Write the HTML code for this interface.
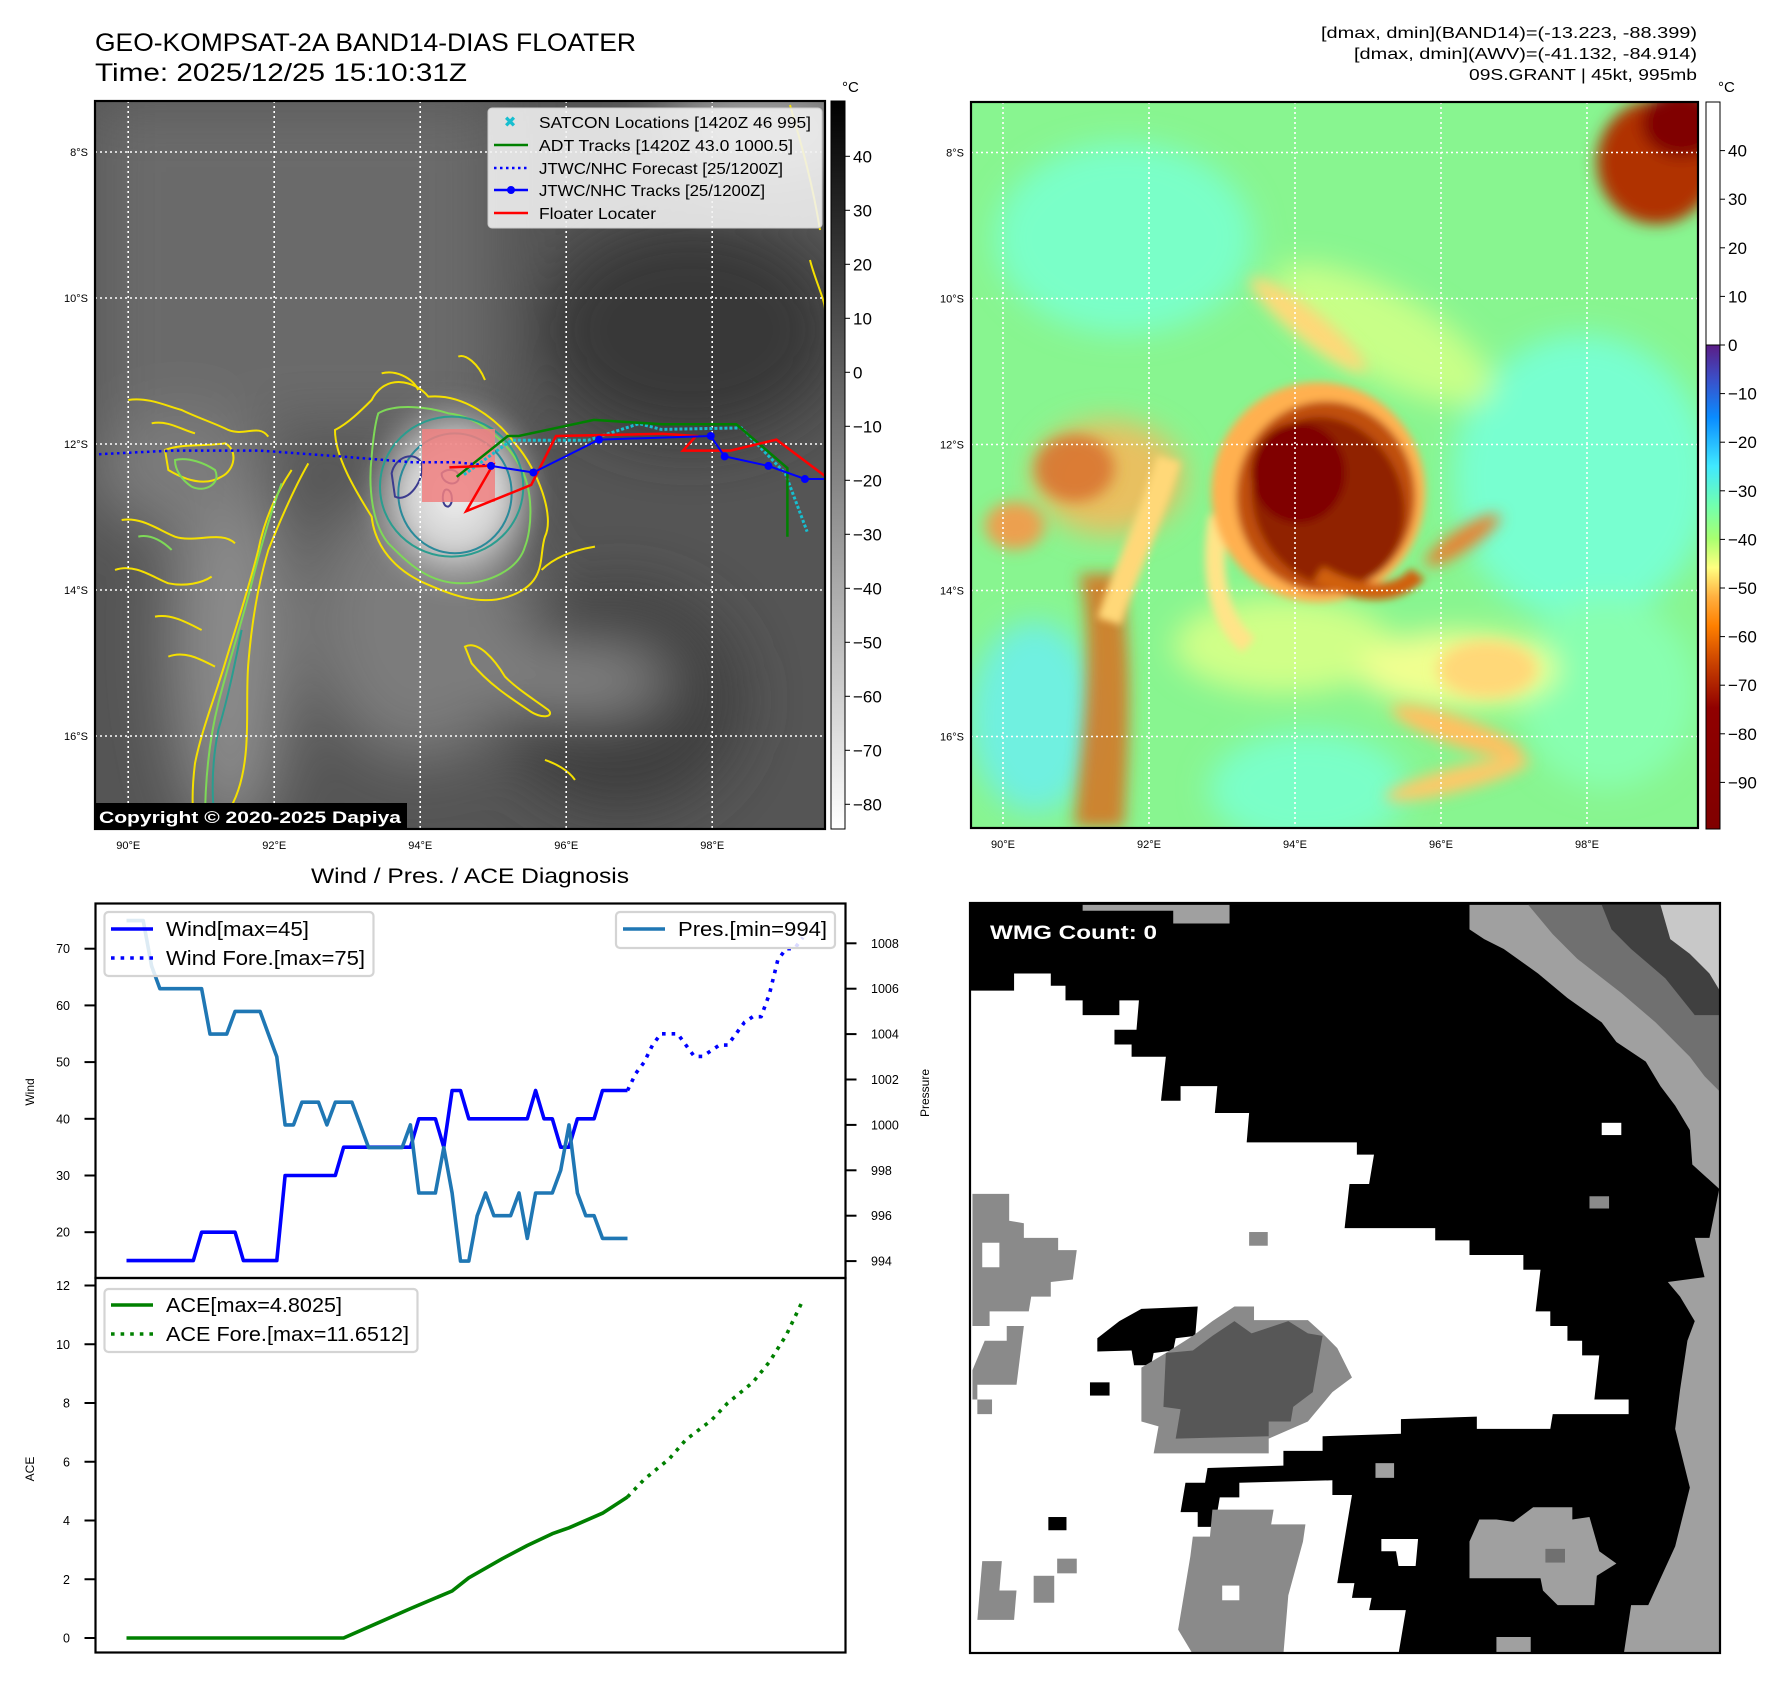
<!DOCTYPE html>
<html><head><meta charset="utf-8"><style>
html,body{margin:0;padding:0;background:#fff;}
svg{display:block;font-family:"Liberation Sans","DejaVu Sans",sans-serif;}
</style></head><body>
<svg id="root" width="1788" height="1690" viewBox="0 0 1788 1690" xmlns="http://www.w3.org/2000/svg">
<defs>
  <filter id="b8" x="-50%" y="-50%" width="200%" height="200%"><feGaussianBlur stdDeviation="8"/></filter>
  <filter id="b15" x="-50%" y="-50%" width="200%" height="200%"><feGaussianBlur stdDeviation="15"/></filter>
  <filter id="b30" x="-50%" y="-50%" width="200%" height="200%"><feGaussianBlur stdDeviation="30"/></filter>
  <filter id="b4" x="-50%" y="-50%" width="200%" height="200%"><feGaussianBlur stdDeviation="4"/></filter>
  <radialGradient id="stormGray"><stop offset="0" stop-color="#f0f0f0"/><stop offset="0.5" stop-color="#d0d0d0"/><stop offset="1" stop-color="#a0a0a0" stop-opacity="0"/></radialGradient>
  <linearGradient id="cbGray" x1="0" y1="0" x2="0" y2="1"><stop offset="0" stop-color="#000"/><stop offset="1" stop-color="#fff"/></linearGradient>
  <linearGradient id="cbColor" x1="0" y1="0" x2="0" y2="1">
    <stop offset="0" stop-color="#5b1d86"/><stop offset="0.07" stop-color="#3b4fc8"/><stop offset="0.15" stop-color="#0a8cff"/>
    <stop offset="0.25" stop-color="#40e8ff"/><stop offset="0.33" stop-color="#70ffb0"/><stop offset="0.4" stop-color="#a8ff70"/>
    <stop offset="0.46" stop-color="#ffff80"/><stop offset="0.52" stop-color="#ffb040"/><stop offset="0.58" stop-color="#ff8000"/>
    <stop offset="0.66" stop-color="#c84000"/><stop offset="0.75" stop-color="#900000"/><stop offset="1" stop-color="#800000"/>
  </linearGradient>
  <clipPath id="clipL"><rect x="95" y="101" width="730" height="728"/></clipPath>
  <clipPath id="clipR"><rect x="971" y="102" width="727" height="726"/></clipPath>
  <clipPath id="clipW"><rect x="970" y="903" width="750" height="750"/></clipPath>
</defs>

<!-- Titles -->
<text x="95" y="51" font-size="25" textLength="541" lengthAdjust="spacingAndGlyphs">GEO-KOMPSAT-2A BAND14-DIAS FLOATER</text>
<text x="95" y="81" font-size="25" textLength="372" lengthAdjust="spacingAndGlyphs">Time: 2025/12/25 15:10:31Z</text>
<g font-size="16" text-anchor="end">
  <text x="1697" y="38" textLength="376" lengthAdjust="spacingAndGlyphs">[dmax, dmin](BAND14)=(-13.223, -88.399)</text>
  <text x="1697" y="59" textLength="343" lengthAdjust="spacingAndGlyphs">[dmax, dmin](AWV)=(-41.132, -84.914)</text>
  <text x="1697" y="80" textLength="228" lengthAdjust="spacingAndGlyphs">09S.GRANT | 45kt, 995mb</text>
</g>

<!-- LEFT MAP -->
<g id="leftMap">
 <g clip-path="url(#clipL)">
  <rect x="95" y="101" width="730" height="728" fill="#555"/>
  <g filter="url(#b30)">
    <rect x="95" y="101" width="400" height="330" fill="#6a6a6a"/>
    <ellipse cx="690" cy="330" rx="150" ry="110" fill="#383838"/>
    <ellipse cx="620" cy="700" rx="120" ry="110" fill="#3e3e3e"/>
    <ellipse cx="230" cy="640" rx="60" ry="200" fill="#8a8a8a"/>
    <ellipse cx="420" cy="620" rx="110" ry="140" fill="#7c7c7c"/>
    <ellipse cx="580" cy="680" rx="90" ry="30" fill="#8a8a8a"/>
    <ellipse cx="760" cy="130" rx="100" ry="40" fill="#b0b0b0"/>
    <ellipse cx="180" cy="470" rx="90" ry="60" fill="#7c7c7c"/>
  </g>
  <ellipse cx="455" cy="495" rx="95" ry="105" fill="url(#stormGray)" filter="url(#b8)"/>
  <g transform="translate(95,330) scale(0.3333)" fill="none" stroke-width="6">
    <path stroke="#f5e000" d="M830,210 C870,130 960,150 1000,200 C1100,190 1200,260 1260,340 C1330,420 1380,560 1350,620 C1330,680 1360,760 1240,800 C1150,830 1060,790 990,760 C900,720 840,650 830,560 C780,480 720,380 720,300 C760,280 800,240 830,210 Z"/>
    <path stroke="#7ed957" d="M850,250 C900,220 1000,230 1060,250 C1150,260 1230,330 1270,400 C1320,480 1310,600 1290,650 C1270,720 1180,760 1100,760 C1000,760 940,700 880,640 C830,580 820,470 830,380 C835,320 840,280 850,250 Z"/>
    <ellipse stroke="#2a9d8f" cx="1070" cy="470" rx="215" ry="210"/>
    <ellipse stroke="#2a8a9a" cx="1080" cy="490" rx="170" ry="180"/>
    <path stroke="#3b3b8f" d="M890,430 C900,380 960,360 980,400 C990,450 940,520 900,500 Z M1040,430 C1060,410 1100,420 1090,450 C1080,470 1040,460 1040,430 Z M1050,480 C1070,470 1080,520 1060,530 C1040,530 1040,490 1050,480 Z"/>
    <path stroke="#f5e000" d="M640,400 C600,470 560,560 520,660 C490,760 470,880 460,1000 C450,1120 470,1260 430,1380 C410,1440 380,1480 340,1500"/>
    <path stroke="#f5e000" d="M590,420 C550,480 510,560 490,660 C460,780 420,900 390,1000 C360,1100 320,1200 300,1300 C290,1380 290,1440 300,1500"/>
    <path stroke="#7ed957" d="M560,460 C530,540 500,640 470,760 C440,880 400,1000 370,1120 C340,1240 330,1360 330,1480"/>
    <path stroke="#2a9d8f" d="M440,900 C420,1000 400,1100 370,1200 C350,1300 350,1400 360,1480"/>
    <path stroke="#f5e000" d="M100,210 C160,200 220,230 260,240 C300,260 360,280 400,300 C450,320 490,280 520,320 M170,280 C220,270 260,300 300,310 M210,360 C260,340 330,350 390,340 C430,360 420,420 380,440 C330,470 270,450 220,420 Z M80,570 C140,560 190,600 240,620 C300,640 380,600 420,640 M60,720 C120,700 170,740 220,760 C270,770 320,760 350,740 M180,860 C230,850 280,880 320,900 M220,980 C270,960 320,990 360,1010"/>
    <path stroke="#7ed957" d="M240,390 C280,380 330,400 360,420 C380,460 330,490 290,470 C260,450 240,420 240,390 Z M130,620 C170,610 210,640 230,660"/>
    <path stroke="#f5e000" d="M1110,950 C1150,930 1200,990 1230,1040 C1270,1080 1320,1110 1360,1140 C1380,1160 1340,1170 1300,1140 C1240,1100 1180,1060 1130,1000 Z"/>
    <path stroke="#f5e000" d="M1340,720 C1380,680 1440,660 1500,650 M1350,1290 C1380,1300 1420,1320 1440,1350 M1090,80 C1110,70 1150,100 1170,150 M860,130 C900,120 950,140 970,180"/>
  </g>
  <path d="M790,105 C800,140 812,180 820,230 M810,260 C815,280 825,300 825,310" stroke="#f5e000" stroke-width="2" fill="none"/>
 </g>
 <g id="gridL" stroke="#fff" stroke-width="1.6" stroke-dasharray="2,3"></g>
 <rect x="422" y="429" width="73" height="73" fill="#f08080" opacity="0.85"/>
 <g id="tracks" clip-path="url(#clipL)"></g>
 <rect x="95" y="803" width="312" height="27" fill="#000"/>
 <text x="99" y="823" font-size="17" font-weight="bold" fill="#fff" textLength="302" lengthAdjust="spacingAndGlyphs">Copyright © 2020-2025 Dapiya</text>
 <rect x="95" y="101" width="730" height="728" fill="none" stroke="#000" stroke-width="2.2"/>
 <g>
  <rect x="488" y="108" width="334" height="120" rx="4" fill="#f2f2f2" fill-opacity="0.88" stroke="#ccc"/>
  <g font-size="16">
   <text x="510" y="127" font-size="15" font-weight="bold" fill="#17becf" text-anchor="middle">✖</text>
   <text x="539" y="128" textLength="272" lengthAdjust="spacingAndGlyphs">SATCON Locations [1420Z 46 995]</text>
   <line x1="494" y1="145" x2="528" y2="145" stroke="#008000" stroke-width="2.5"/>
   <text x="539" y="151" textLength="254" lengthAdjust="spacingAndGlyphs">ADT Tracks [1420Z 43.0 1000.5]</text>
   <line x1="494" y1="168" x2="528" y2="168" stroke="#0000ff" stroke-width="2.5" stroke-dasharray="2.5,3.5"/>
   <text x="539" y="174" textLength="244" lengthAdjust="spacingAndGlyphs">JTWC/NHC Forecast [25/1200Z]</text>
   <line x1="494" y1="190" x2="528" y2="190" stroke="#0000ff" stroke-width="2.5"/>
   <circle cx="511" cy="190" r="4" fill="#0000ff"/>
   <text x="539" y="196" textLength="226" lengthAdjust="spacingAndGlyphs">JTWC/NHC Tracks [25/1200Z]</text>
   <line x1="494" y1="213" x2="528" y2="213" stroke="#ff0000" stroke-width="2.5"/>
   <text x="539" y="219" textLength="117" lengthAdjust="spacingAndGlyphs">Floater Locater</text>
  </g>
 </g>
 <g id="ticksL" font-size="11"></g>
 <rect x="831" y="101" width="14" height="728" fill="url(#cbGray)" stroke="#000" stroke-width="1"/>
 <text x="842" y="92" font-size="15">°C</text>
 <g id="cbTicksL" font-size="17"></g>
</g>

<!-- RIGHT MAP -->
<g id="rightMap">
 <g clip-path="url(#clipR)">
  <rect x="971" y="102" width="727" height="726" fill="#88f590"/>
  <g transform="translate(960,95) scale(0.4975,0.4785)">
   <g filter="url(#b30)">
     <ellipse cx="330" cy="300" rx="260" ry="200" fill="#7affc8"/>
     <ellipse cx="1250" cy="800" rx="260" ry="300" fill="#78ffd0"/>
     <ellipse cx="150" cy="1300" rx="130" ry="200" fill="#70f0e0"/>
     <ellipse cx="700" cy="1450" rx="200" ry="120" fill="#7affc8"/>
     <ellipse cx="1300" cy="1250" rx="180" ry="200" fill="#88ffb0"/>
     <ellipse cx="650" cy="1150" rx="220" ry="100" fill="#d0ff88"/>
     <ellipse cx="1000" cy="1200" rx="200" ry="80" fill="#f0ff90"/>
     <ellipse cx="850" cy="500" rx="250" ry="90" fill="#c8ff88" transform="rotate(30 850 500)"/>
     <ellipse cx="300" cy="800" rx="150" ry="120" fill="#e8c060"/>
   </g>
   <g filter="url(#b15)">
     <path d="M240,1000 C270,1150 250,1300 230,1530 L330,1530 C340,1350 350,1180 320,1000 Z" fill="#d87020" opacity="0.85"/>
     <ellipse cx="230" cy="780" rx="80" ry="70" fill="#d87030" opacity="0.85"/>
     <ellipse cx="110" cy="900" rx="60" ry="50" fill="#eca050"/>
     <ellipse cx="1060" cy="1200" rx="100" ry="60" fill="#ffd878"/>
     <ellipse cx="1000" cy="1330" rx="140" ry="30" fill="#ffc060" transform="rotate(20 1000 1330)"/>
     <ellipse cx="1000" cy="1430" rx="150" ry="25" fill="#ffc868" transform="rotate(-15 1000 1430)"/>
     <ellipse cx="700" cy="480" rx="150" ry="30" fill="#ffd878" transform="rotate(40 700 480)"/>
     <ellipse cx="1010" cy="930" rx="90" ry="22" fill="#e88030" transform="rotate(-35 1010 930)"/>
     <ellipse cx="1400" cy="140" rx="120" ry="130" fill="#b03000"/>
     <ellipse cx="1450" cy="60" rx="80" ry="70" fill="#800000"/>
   </g>
   <g filter="url(#b8)">
     <path d="M420,760 C380,900 330,1000 300,1100" stroke="#ffd878" stroke-width="50" fill="none"/>
     <path d="M520,880 C500,1000 520,1100 580,1150" stroke="#ffe488" stroke-width="40" fill="none"/>
     <ellipse cx="720" cy="830" rx="215" ry="230" fill="#ffb050"/>
     <ellipse cx="735" cy="840" rx="180" ry="200" fill="#c05010"/>
     <ellipse cx="740" cy="850" rx="150" ry="180" fill="#902000" transform="rotate(-20 740 850)"/>
     <ellipse cx="680" cy="790" rx="95" ry="105" fill="#800000"/>
     <path d="M720,1000 C800,1050 880,1050 920,1000" stroke="#d06010" stroke-width="35" fill="none"/>
   </g>
  </g>
 </g>
 <g id="gridR" stroke="#fff" stroke-width="1.6" stroke-dasharray="2,3"></g>
 <rect x="971" y="102" width="727" height="726" fill="none" stroke="#000" stroke-width="2.2"/>
 <g id="ticksR" font-size="11"></g>
 <rect x="1706" y="102" width="14" height="243" fill="#fff" stroke="#000" stroke-width="1"/>
 <rect x="1706" y="345" width="14" height="484" fill="url(#cbColor)" stroke="#000" stroke-width="1"/>
 <text x="1718" y="92" font-size="15">°C</text>
 <g id="cbTicksR" font-size="17"></g>
</g>

<!-- BOTTOM LEFT CHART -->
<text x="470" y="883" font-size="21" text-anchor="middle" textLength="318" lengthAdjust="spacingAndGlyphs">Wind / Pres. / ACE Diagnosis</text>
<g id="chart"></g>

<!-- WMG PANEL -->
<g>
 <rect x="970" y="903" width="750" height="750" fill="#fff"/>
 <g clip-path="url(#clipW)">
 <g transform="translate(970,900) scale(0.4897)">
  <polygon fill="#000" points="0,0 1560,0 1560,1540 875,1540 890,1450 815,1450 820,1425 780,1425 785,1395 750,1395 780,1215 740,1215 740,1185 550,1190 550,1220 510,1220 500,1280 465,1280 465,1250 430,1250 440,1190 480,1190 485,1160 640,1155 640,1125 720,1125 720,1095 880,1090 880,1060 1035,1055 1035,1080 1185,1080 1190,1050 1345,1050 1345,1020 1275,1020 1285,930 1250,930 1250,900 1220,900 1220,870 1185,870 1185,840 1155,840 1165,755 1130,755 1130,725 1020,725 1020,695 950,695 950,670 765,670 775,580 815,580 825,520 790,520 790,495 565,495 570,435 500,435 505,380 430,380 430,410 390,410 400,320 330,320 330,295 295,295 295,265 340,265 345,205 305,205 305,235 230,235 230,205 195,205 195,175 165,175 165,150 90,150 90,185 0,185"/>
  <polygon fill="#a0a0a0" points="1020,10 1560,10 1560,1540 1335,1540 1350,1440 1385,1440 1440,1320 1470,1200 1440,1080 1450,1000 1465,900 1480,860 1450,810 1425,780 1500,770 1480,690 1510,690 1530,590 1475,540 1470,470 1440,420 1410,380 1380,330 1320,290 1290,250 1220,200 1160,150 1090,100 1050,80 1020,60"/>
  <polygon fill="#707070" points="1140,10 1560,10 1540,400 1500,360 1470,320 1400,250 1330,190 1240,120 1190,70"/>
  <polygon fill="#404040" points="1290,10 1410,10 1450,80 1500,130 1540,200 1540,235 1480,235 1420,160 1350,100 1310,60"/>
  <polygon fill="#c8c8c8" points="1410,10 1560,10 1540,200 1510,150 1470,110 1430,80"/>
  <polygon fill="#a0a0a0" points="230,10 530,10 530,48 415,48 415,22 230,22"/>
  <polygon fill="#000" points="260,895 305,860 350,835 465,830 460,890 420,895 415,920 375,925 370,950 335,950 330,920 260,922"/>
  <polygon fill="#8a8a8a" points="350,955 400,925 455,890 495,860 540,830 580,830 580,858 690,858 720,885 750,915 780,975 740,1005 690,1065 610,1100 610,1130 375,1130 385,1075 350,1065"/>
  <polygon fill="#575757" points="400,925 455,920 495,890 540,860 575,885 650,860 690,885 720,890 700,1005 660,1035 655,1065 610,1065 610,1095 420,1100 430,1040 395,1035"/>
  <polygon fill="#8a8a8a" points="5,600 80,600 80,655 110,660 110,690 180,690 180,715 218,715 210,775 165,780 165,810 125,810 120,840 40,840 40,870 5,870"/>
  <polygon fill="#fff" points="25,700 60,700 60,750 25,750"/>
  <polygon fill="#8a8a8a" points="5,960 30,900 75,900 75,870 110,870 95,990 15,990 15,1050 45,1050 45,1020 5,1020"/>
  <polygon fill="#8a8a8a" points="455,1300 490,1300 495,1245 620,1245 615,1275 685,1275 680,1310 650,1420 640,1540 455,1540 425,1490 450,1340"/>
  <rect x="515" y="1400" width="35" height="30" fill="#fff"/>
  <polygon fill="#a0a0a0" points="1020,1310 1040,1265 1075,1265 1110,1270 1150,1240 1230,1240 1230,1265 1265,1260 1285,1330 1320,1355 1280,1380 1275,1440 1200,1440 1170,1410 1165,1385 1020,1385"/>
  <rect x="1175" y="1325" width="40" height="28" fill="#707070"/>
  <rect x="1075" y="1505" width="70" height="35" fill="#a0a0a0"/>
  <polygon fill="#8a8a8a" points="25,1350 65,1350 60,1410 95,1410 90,1470 15,1470"/>
  <rect x="130" y="1380" width="42" height="55" fill="#8a8a8a"/>
  <rect x="178" y="1345" width="40" height="30" fill="#8a8a8a"/>
  <rect x="1290" y="455" width="40" height="25" fill="#fff"/>
  <rect x="1265" y="605" width="40" height="25" fill="#8a8a8a"/>
  <rect x="570" y="678" width="38" height="28" fill="#8a8a8a"/>
  <rect x="828" y="1150" width="38" height="30" fill="#a0a0a0"/>
  <rect x="245" y="985" width="40" height="27" fill="#000"/>
  <rect x="160" y="1260" width="37" height="27" fill="#000"/>
  <polygon fill="#fff" points="840,1305 915,1305 910,1360 875,1360 870,1330 840,1330"/>
 </g>
 </g>
 <rect x="970" y="903" width="750" height="750" fill="none" stroke="#000" stroke-width="2.2"/>
 <text x="990" y="939" font-size="19" font-weight="bold" fill="#fff" textLength="167" lengthAdjust="spacingAndGlyphs">WMG Count: 0</text>
</g>

<script>
// ---------- Map track data (lon/lat) ----------
const jtwcLon = [94.97, 95.55, 96.45, 97.98, 98.17, 98.77, 99.27, 99.6];
const jtwcLat = [12.30, 12.39, 11.94, 11.89, 12.17, 12.30, 12.48, 12.48];
const fcstLon = [89.6, 90.6, 91.8, 92.9, 93.9, 94.5, 94.97];
const fcstLat = [12.14, 12.09, 12.09, 12.17, 12.25, 12.25, 12.30];
const floaterLon = [94.4, 94.9, 95.0, 94.63, 95.52, 95.86, 97.31, 97.78, 97.6, 98.25, 98.88, 99.6];
const floaterLat = [12.32, 12.30, 12.28, 12.92, 12.56, 11.89, 11.86, 11.89, 12.09, 12.09, 11.94, 12.48];
const adtLon = [94.5, 95.2, 95.35, 96.38, 97.31, 98.33, 99.03, 99.03];
const adtLat = [12.45, 11.89, 11.89, 11.67, 11.73, 11.73, 12.33, 13.27];
const satconLon = [94.6, 95.25, 96.3, 97.0, 97.3, 98.4, 99.0, 99.3];
const satconLat = [12.42, 11.95, 11.95, 11.72, 11.8, 11.78, 12.4, 13.2];
const lonTicks = [90, 92, 94, 96, 98];
const latTicks = [8, 10, 12, 14, 16];
const irCbTicks = [40, 30, 20, 10, 0, -10, -20, -30, -40, -50, -60, -70, -80];
const awvCbTicks = [40, 30, 20, 10, 0, -10, -20, -30, -40, -50, -60, -70, -80, -90];

// ---------- Diagnosis chart data ----------
const windObs = [15,15,15,15,15,15,15,15,15,20,20,20,20,20,15,15,15,15,15,30,30,30,30,30,30,30,35,35,35,35,35,35,35,35,35,40,40,40,35,45,45,40,40,40,40,40,40,40,40,45,40,40,35,35,40,40,40,45,45,45,45];
const presObs = [1009,1009,1009,1007,1006,1006,1006,1006,1006,1006,1004,1004,1004,1005,1005,1005,1005,1004,1003,1000,1000,1001,1001,1001,1000,1001,1001,1001,1000,999,999,999,999,999,1000,997,997,997,999,997,994,994,996,997,996,996,996,997,995,997,997,997,998,1000,997,996,996,995,995,995,995];
const windFcstIdx = [60,61,62,63,64,65,66,67,68,69,70,71,72,73,74,75,76,77,78,79,80,81];
const windFcst = [45,48,50,53,55,55,55,53,51,51,52,53,53,55,57,58,58,62,68,70,70,72];
const aceIdx = [0,26,30,34,39,41,45,48,51,53,57,60];
const aceObs = [0,0,0.5,1.0,1.6,2.05,2.7,3.15,3.55,3.75,4.25,4.8];
const aceFcstIdx = [60,62,65,67,70,72,75,77,79,81];
const aceFcst = [4.8,5.4,6.1,6.75,7.4,8.0,8.7,9.4,10.3,11.5];
const windTicks = [20,30,40,50,60,70];
const presTicks = [994,996,998,1000,1002,1004,1006,1008];
const aceTicks = [0,2,4,6,8,10,12];

const NS = 'http://www.w3.org/2000/svg';
function mk(tag, attrs, parent) {
  const e = document.createElementNS(NS, tag);
  for (const k in attrs) e.setAttribute(k, attrs[k]);
  if (parent) parent.appendChild(e);
  return e;
}
const lx = lon => 128.2 + (lon - 90) * 73.0;
const ly = lat => 152.0 + (lat - 8) * 73.0;
const rx = lon => 1003.0 + (lon - 90) * 73.0;
const ry = lat => 152.5 + (lat - 8) * 73.0;

function pts(lons, lats) { return lons.map((v, i) => lx(v).toFixed(1) + ',' + ly(lats[i]).toFixed(1)).join(' '); }

function grid(gid, tid, xf, yf, x0, x1, y0, y1, labX) {
  const g = document.getElementById(gid), t = document.getElementById(tid);
  lonTicks.forEach(lon => {
    const l = mk('line', {x1: xf(lon), x2: xf(lon), y1: y0, y2: y1}, g);
    
    
    const tx = mk('text', {x: xf(lon), y: y1 + 20, 'text-anchor': 'middle'}, t);
    tx.textContent = lon + '°E';
    
    
  });
  latTicks.forEach(lat => {
    const l = mk('line', {x1: x0, x2: x1, y1: yf(lat), y2: yf(lat)}, g);
    
    
    const tx = mk('text', {x: labX, y: yf(lat) + 4, 'text-anchor': 'end'}, t);
    tx.textContent = lat + '°S';
    
    
  });
}
grid('gridL', 'ticksL', lx, ly, 95, 825, 101, 829, 88);
grid('gridR', 'ticksR', rx, ry, 971, 1698, 102, 828, 964);

(function(){
  const gL = document.getElementById('cbTicksL');
  irCbTicks.forEach(v => {
    const y = 156.3 - (v - 40) * 5.4;
    mk('line', {x1: 845, x2: 850, y1: y, y2: y, stroke: '#000'}, gL);
    const t = mk('text', {x: 853, y: y + 6}, gL);
    t.textContent = v < 0 ? '\u2212' + (-v) : String(v);
    
    
  });
  const gR = document.getElementById('cbTicksR');
  awvCbTicks.forEach(v => {
    const y = 150.6 - (v - 40) * 4.86;
    mk('line', {x1: 1720, x2: 1725, y1: y, y2: y, stroke: '#000'}, gR);
    const t = mk('text', {x: 1728, y: y + 6}, gR);
    t.textContent = v < 0 ? '\u2212' + (-v) : String(v);
    
    
  });
})();

(function(){
  const g = document.getElementById('tracks');
  let e;
  e = mk('polyline', {points: pts(satconLon, satconLat), fill: 'none', stroke: '#17becf', 'stroke-width': 3, 'stroke-dasharray': '3,2'}, g);
  
  
  e = mk('polyline', {points: pts(adtLon, adtLat), fill: 'none', stroke: '#008000', 'stroke-width': 2.5}, g);
  
  
  e = mk('polyline', {points: pts(fcstLon, fcstLat), fill: 'none', stroke: '#0000ff', 'stroke-width': 2.5, 'stroke-dasharray': '2.5,3.5'}, g);
  
  
  e = mk('polyline', {points: pts(floaterLon, floaterLat), fill: 'none', stroke: '#ff0000', 'stroke-width': 2.5}, g);
  
  
  e = mk('polyline', {points: pts(jtwcLon, jtwcLat), fill: 'none', stroke: '#0000ff', 'stroke-width': 2}, g);
  
  
  jtwcLon.forEach((lon, i) => {
    const c = mk('circle', {cx: lx(lon), cy: ly(jtwcLat[i]), r: 4, fill: '#0000ff'}, g);
    
    
  });
})();

(function(){
  const g = document.getElementById('chart');
  const X0 = 95.5, X1 = 845.5, TOP = 903.5, MID = 1278, BOT = 1652.5;
  const xI = i => 126.5 + i * 8.35;
  const yW = v => 948.7 + (70 - v) * 5.67;
  const yP = p => 943.3 + (1008 - p) * 22.7;
  const yA = a => 1638 - a * 29.375;
  const line = (idx, vals, yf, color, dash, name) => {
    const p = mk('polyline', {points: idx.map((ix, k) => xI(ix).toFixed(1) + ',' + yf(vals[k]).toFixed(1)).join(' '), fill: 'none', stroke: color, 'stroke-width': 3.6, 'stroke-linejoin': 'round'}, g);
    if (dash) p.setAttribute('stroke-dasharray', '3.6,6');
    
    
  };
  const obsIdx = windObs.map((_, i) => i);
  line(obsIdx, windObs, yW, '#0000ff', false, 'wind-line');
  line(windFcstIdx, windFcst, yW, '#0000ff', true, 'wind-forecast-line');
  line(presObs.map((_, i) => i), presObs, yP, '#1f77b4', false, 'pressure-line');
  line(aceIdx, aceObs, yA, '#008000', false, 'ace-line');
  line(aceFcstIdx, aceFcst, yA, '#008000', true, 'ace-forecast-line');

  let f = mk('rect', {x: X0, y: TOP, width: X1 - X0, height: MID - TOP, fill: 'none', stroke: '#000', 'stroke-width': 2.2}, g);
  
  
  f = mk('rect', {x: X0, y: MID, width: X1 - X0, height: BOT - MID, fill: 'none', stroke: '#000', 'stroke-width': 2.2}, g);
  
  

  windTicks.forEach(v => {
    mk('line', {x1: X0 - 11, x2: X0, y1: yW(v), y2: yW(v), stroke: '#000', 'stroke-width': 2}, g);
    const t = mk('text', {x: 70, y: yW(v) + 4.5, 'text-anchor': 'end', 'font-size': 12.5}, g);
    t.textContent = v;
    
    
  });
  presTicks.forEach(v => {
    mk('line', {x1: X1, x2: X1 + 11, y1: yP(v), y2: yP(v), stroke: '#000', 'stroke-width': 2}, g);
    const t = mk('text', {x: 871, y: yP(v) + 4.5, 'font-size': 12.5}, g);
    t.textContent = v;
    
    
  });
  aceTicks.forEach(v => {
    mk('line', {x1: X0 - 11, x2: X0, y1: yA(v), y2: yA(v), stroke: '#000', 'stroke-width': 2}, g);
    const t = mk('text', {x: 70, y: yA(v) + 4.5, 'text-anchor': 'end', 'font-size': 12.5}, g);
    t.textContent = v;
    
    
  });
  const yl = (txt, x, y, name) => {
    const t = mk('text', {x: x, y: y, 'font-size': 12, 'text-anchor': 'middle', transform: 'rotate(-90 ' + x + ' ' + y + ')'}, g);
    t.textContent = txt;
    
    
  };
  yl('Wind', 34, 1092, 'wind-axis-title');
  yl('ACE', 34, 1469, 'ace-axis-title');
  yl('Pressure', 929, 1093, 'pressure-axis-title');

  const legend = (x, y, w, h, rows, name) => {
    const lg = mk('g', {}, g);
    
    
    mk('rect', {x: x, y: y, width: w, height: h, rx: 4, fill: '#fff', 'fill-opacity': 0.85, stroke: '#d4d4d4', 'stroke-width': 2.2}, lg);
    rows.forEach(r => {
      const l = mk('line', {x1: r.lx, x2: r.lx + 42, y1: r.y, y2: r.y, stroke: r.c, 'stroke-width': 3.6}, lg);
      if (r.d) l.setAttribute('stroke-dasharray', '3.6,6');
      const t = mk('text', {x: r.lx + 55, y: r.y + 7, 'font-size': 20, textLength: r.w, lengthAdjust: 'spacingAndGlyphs'}, lg);
      t.textContent = r.t;
    });
  };
  legend(104.5, 912, 269, 64, [{lx: 111, y: 929, c: '#0000ff', t: 'Wind[max=45]', w: 143}, {lx: 111, y: 958, c: '#0000ff', d: 1, t: 'Wind Fore.[max=75]', w: 199}], 'wind-legend');
  legend(616, 912, 219, 36, [{lx: 623, y: 929, c: '#1f77b4', t: 'Pres.[min=994]', w: 149}], 'pressure-legend');
  legend(104.5, 1289, 313, 63, [{lx: 111, y: 1305, c: '#008000', t: 'ACE[max=4.8025]', w: 176}, {lx: 111, y: 1334, c: '#008000', d: 1, t: 'ACE Fore.[max=11.6512]', w: 243}], 'ace-legend');
})();
</script>
</svg>
</body></html>
